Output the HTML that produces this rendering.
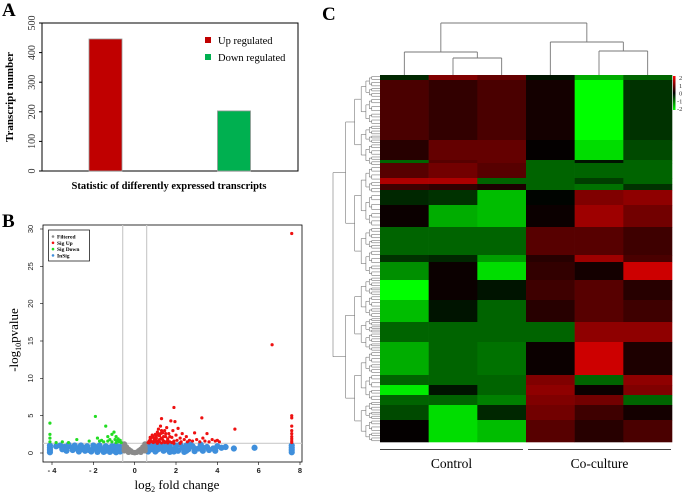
<!DOCTYPE html>
<html><head><meta charset="utf-8"><style>
html,body{margin:0;padding:0;background:#fff;}
svg{display:block;font-family:"Liberation Serif",serif;}
.ss{font-family:"Liberation Sans",sans-serif;}
</style></head><body>
<svg id="fig" width="685" height="494" viewBox="0 0 685 494" xmlns="http://www.w3.org/2000/svg">
<text x="2" y="16" font-size="19" font-weight="bold">A</text>
<text x="2" y="227" font-size="19" font-weight="bold">B</text>
<text x="322" y="20" font-size="19" font-weight="bold">C</text>
<g id="pa"></g>
<g id="pb"></g>
<g id="pc"></g>
</svg>
<script>
// ---------- Panel A data ----------
const barCategories = ["Up regulated","Down regulated"];
const barValues = [446, 203];
const barTicks = [0,100,200,300,400,500];

// ---------- Panel B data ----------
const xTicksB = [-4,-2,0,2,4,6,8];
const yTicksB = [0,5,10,15,20,25,30];
const sigUpPts = [[0.65,1.4],[0.7,1.6],[0.75,1.8],[0.8,2.0],[0.85,1.5],[0.9,2.2],[0.95,1.7],[1.0,2.5],[1.0,1.5],[1.05,2.0],[1.1,2.8],[1.1,1.6],[1.15,3.2],[1.2,2.3],[1.2,1.5],[1.25,3.6],[1.3,4.6],[1.3,2.0],[1.35,2.7],[1.4,1.6],[1.45,3.0],[1.5,2.2],[1.5,1.5],[1.55,3.4],[1.6,1.9],[1.65,2.6],[1.7,1.5],[1.75,4.3],[1.8,2.1],[1.85,3.0],[1.9,1.6],[1.95,4.2],[2.0,2.4],[2.05,1.7],[2.1,3.3],[2.2,2.0],[2.25,1.5],[2.3,2.6],[2.4,1.8],[2.5,2.2],[2.55,1.5],[2.65,1.7],[2.8,1.6],[2.9,2.7],[3.0,1.8],[3.15,1.5],[3.3,2.0],[3.4,1.6],[3.5,2.6],[3.6,1.5],[3.75,1.8],[3.9,1.6],[4.0,1.7],[4.1,1.5],[1.9,6.1],[3.25,4.7],[4.85,3.2],[6.65,14.5],[7.6,29.4],[7.6,5.0],[7.6,4.7],[7.6,3.6],[7.6,3.0],[7.6,2.6],[7.6,2.2],[7.6,1.9],[7.6,1.6],[7.6,1.4],[0.7,1.35],[0.9,1.4],[1.1,1.3],[1.3,1.35],[1.6,1.35],[1.9,1.3],[2.2,1.3],[0.8,1.55],[1.0,1.9],[1.2,1.8],[1.4,2.2],[1.6,1.7],[1.8,1.4],[1.25,2.6],[1.0,1.75],[0.75,2.1],[0.85,2.4],[0.95,2.0],[1.05,2.3],[1.15,2.5],[1.35,1.8],[1.45,1.4],[1.7,2.2],[1.5,2.6],[1.3,3.0]];
const sigDownPts = [[-4.1,1.5],[-4.1,2],[-4.1,2.5],[-4.1,4],[-3.8,1.4],[-3.5,1.5],[-3.2,1.4],[-2.8,1.8],[-2.2,1.6],[-1.9,4.9],[-1.8,2],[-1.6,1.7],[-1.4,3.6],[-1.3,2.2],[-1.2,1.8],[-1.1,2.5],[-1.0,2.8],[-0.9,2.2],[-0.95,1.8],[-0.85,1.6],[-0.8,1.9],[-0.75,1.5],[-0.7,1.7],[-1.1,1.5],[-1.3,1.6],[-0.9,1.4],[-0.65,1.4],[-1.5,1.5],[-1.7,1.6]];
const inSigPts = [[-4.1,0.1],[-4.1,0.4],[-4.1,0.7],[-4.1,1.0],[-3.8,0.9],[-3.6,1.0],[-3.4,0.8],[-3.2,0.9],[-3.0,0.7],[-2.8,0.6],[-2.6,0.5],[-2.4,0.7],[-2.2,0.4],[-2.0,0.6],[-1.8,0.4],[-1.6,0.5],[-1.4,0.3],[-1.2,0.5],[-1.0,0.3],[-0.8,0.4],[-0.7,0.2],[-3.5,0.5],[-3.0,0.4],[-2.7,0.2],[-2.4,0.3],[-2.1,0.2],[-1.8,0.15],[-1.5,0.15],[-1.2,0.15],[-0.9,0.1],[-1.1,0.9],[-0.9,1.0],[-0.7,0.8],[-1.4,0.9],[-1.7,1.0],[-2.0,1.0],[-2.6,1.0],[-3.2,1.1],[0.65,0.2],[0.8,0.5],[0.9,0.9],[1.0,0.2],[1.2,0.6],[1.3,1.0],[1.4,0.3],[1.6,0.8],[1.7,0.15],[1.8,0.5],[2.0,1.0],[2.1,0.3],[2.3,0.7],[2.4,0.15],[2.6,0.5],[2.8,0.9],[2.9,0.25],[3.1,0.6],[3.3,0.3],[3.5,0.8],[3.6,0.4],[3.8,0.6],[4.0,0.9],[4.2,0.7],[4.4,0.8],[4.8,0.6],[5.8,0.7],[0.7,1.1],[1.0,1.1],[1.5,1.15],[2.2,1.15],[2.7,1.1],[3.2,1.1],[0.75,0.7],[1.1,0.45],[1.5,0.5],[1.9,0.2],[2.5,1.0],[7.6,0.1],[7.6,0.4],[7.6,0.7],[7.6,1.0],[-3.3,0.3],[-2.9,1.0],[-2.3,0.9],[-1.9,0.8],[-1.3,0.7],[-0.8,0.7],[1.2,0.9],[1.7,1.05],[2.0,0.6],[2.5,0.3],[2.9,0.6],[3.3,0.7],[3.9,0.3]];
const filteredPts = [[-0.5,1.2],[-0.4,0.8],[-0.3,0.5],[-0.2,0.3],[-0.1,0.1],[0,0.05],[0.1,0.1],[0.2,0.3],[0.3,0.5],[0.4,0.8],[0.5,1.2],[-0.5,0.3],[0.5,0.3],[-0.3,0.1],[0.3,0.1],[-0.5,0.7],[0.5,0.7]];

// ---------- Panel C data ----------
const heatSamples = ["C1","C2","C3","T1","T2","T3"];
const heatBlockRows = [5,60,20,3,15,6,6,15,22,28,7,18,20,22,20,33,10,10,10,15,22];
const heatValues = [
 [-0.5,1.2,1,-0.3,-1.5,-1],
 [0.8,0.6,0.8,0.3,-2,-0.6],
 [0.5,1,1,0.1,-1.8,-0.8],
 [-1,0.9,1,-1,-0.3,-1],
 [0.9,1.1,0.9,-1,-1,-1],
 [1.5,1.5,-1,-1,-0.7,-1],
 [0.7,0.6,0.4,-1,-1.1,-0.6],
 [-0.5,-0.6,-1.6,-0.1,1.2,1.3],
 [0.2,-1.5,-1.6,0.2,1.4,1.1],
 [-1,-1,-1,0.9,0.9,0.7],
 [-0.6,-0.5,-1.4,0.5,1.4,0.8],
 [-1.3,0.2,-1.8,0.6,0.3,1.7],
 [-2,0.2,-0.3,0.7,0.9,0.5],
 [-1.6,-0.3,-1,0.5,0.9,0.7],
 [-1,-1,-1,-1,1.3,1.3],
 [-1.5,-1,-1.1,0.2,1.7,0.4],
 [-1,-1,-1,1.2,-1,1.3],
 [-1.9,-0.3,-1,1.3,0.2,1.2],
 [-1,-1,-1.2,1.2,1.1,-1],
 [-0.8,-1.8,-0.5,1.1,0.7,0.3],
 [0.1,-1.8,-1.6,0.9,0.5,0.8]
];
const colorbarTicks = [2,1,0,-1,-2];

const NS="http://www.w3.org/2000/svg";
function mk(parent,tag,attrs,txt){const e=document.createElementNS(NS,tag);for(const k in attrs)e.setAttribute(k,attrs[k]);if(txt!==undefined)e.textContent=txt;parent.appendChild(e);return e;}

// ===== Panel A =====
(function(){
 const g=document.getElementById('pa');
 const L=42,R=298,T=23,B=171;
 const y=v=>B-(v/500)*(B-T);
 const frame=mk(g,'rect',{x:L,y:T,width:R-L,height:B-T,fill:'none',stroke:'#000','stroke-width':1});
 
 
 barTicks.forEach(t=>{
  const tk=mk(g,'line',{x1:L-3,x2:L,y1:y(t),y2:y(t),stroke:'#000'});
  
  
  const lb=mk(g,'text',{x:0,y:0,'font-size':10,fill:'#333','text-anchor':'middle',transform:`translate(35,${y(t)}) rotate(-90)`},String(t));
  
  
 });
 const cols=['#c00000','#00b050'];
 const centers=[105.5,234];
 barValues.forEach((v,i)=>{
  const r=mk(g,'rect',{x:centers[i]-16.5,y:y(v),width:33,height:B-y(v),fill:cols[i],stroke:'#999','stroke-width':0.8});
  
  
  const sq=mk(g,'rect',{x:205,y:37+i*17,width:6,height:6,fill:cols[i]});
  
  
  const lt=mk(g,'text',{x:218,y:44+i*17,'font-size':10.5},barCategories[i]);
  
  
 });
 const yt=mk(g,'text',{x:0,y:0,'font-size':11,'font-weight':'bold','text-anchor':'middle',transform:'translate(13,97) rotate(-90)'},'Transcript number');
 
 
 const xt=mk(g,'text',{x:169,y:189,'font-size':10.5,'font-weight':'bold','text-anchor':'middle'},'Statistic of differently expressed transcripts');
 
 
})();

// ===== Panel B =====
(function(){
 const g=document.getElementById('pb');
 const L=43,R=302,T=225,B=462;
 const x=v=>52+(v+4)*(248/12);
 const y=v=>453-v*(224/30);
 const fr=mk(g,'rect',{x:L,y:T,width:R-L,height:B-T,fill:'none',stroke:'#000','stroke-width':0.8});
 
 
 [-0.58,0.58].forEach(v=>{
  const l=mk(g,'line',{x1:x(v),x2:x(v),y1:T,y2:B,stroke:'#ccc','stroke-width':1.2});
  
  
 });
 const hl=mk(g,'line',{x1:L,x2:R,y1:y(1.3),y2:y(1.3),stroke:'#ccc','stroke-width':1.2});
 
 
 const groups=[[inSigPts,'#3f8fdc',3.1,'point-insig'],[filteredPts,'#8a8a8a',2.8,'point-filtered'],[sigDownPts,'#22dd22',1.6,'point-sig-down'],[sigUpPts,'#ee1111',1.6,'point-sig-up']];
 groups.forEach(([pts,c,r,nm])=>pts.forEach(p=>{
  const e=mk(g,'circle',{cx:x(p[0]),cy:y(p[1]),r:r,fill:c});
  
  
 }));
 xTicksB.forEach(t=>{
  const tk=mk(g,'line',{x1:x(t),x2:x(t),y1:B,y2:B+3,stroke:'#000','stroke-width':0.6});
  
  
  const lb=mk(g,'text',{x:x(t),y:B+11,'font-size':7.5,'font-weight':'bold','text-anchor':'middle',class:'ss',fill:'#222'},t<0?'- '+(-t):String(t));
  
  
 });
 yTicksB.forEach(t=>{
  const tk=mk(g,'line',{x1:L-3,x2:L,y1:y(t),y2:y(t),stroke:'#000','stroke-width':0.6});
  
  
  const lb=mk(g,'text',{x:0,y:0,'font-size':7.5,'text-anchor':'middle',class:'ss',fill:'#222',transform:`translate(33,${y(t)}) rotate(-90)`},String(t));
  
  
 });
 const lg=mk(g,'rect',{x:48.5,y:230,width:41,height:31,fill:'#fff',stroke:'#000','stroke-width':0.7});
 
 
 [['Filtered','#8a8a8a'],['Sig Up','#ee1111'],['Sig Down','#22dd22'],['InSig','#3f8fdc']].forEach((e,i)=>{
  const c=mk(g,'circle',{cx:53,cy:236.5+i*6.3,r:1.3,fill:e[1]});
  
  
  const t=mk(g,'text',{x:57,y:238.5+i*6.3,'font-size':5.5,'font-weight':'bold'},e[0]);
  
  
 });
 const yt=mk(g,'text',{x:0,y:0,'font-size':13,'text-anchor':'middle',transform:'translate(18,340) rotate(-90)'});
 
 
 yt.innerHTML='-log<tspan font-size="8" dy="3">10</tspan><tspan dy="-3">pvalue</tspan>';
 const xt=mk(g,'text',{x:177,y:489,'font-size':13,'text-anchor':'middle'});
 
 
 xt.innerHTML='log<tspan font-size="8" dy="3">2</tspan><tspan dy="-3"> fold change</tspan>';
})();

// ===== Panel C =====
(function(){
 const g=document.getElementById('pc');
 const L=380,R=672,T=75,B=442;
 const cw=(R-L)/heatSamples.length;
 const total=heatBlockRows.reduce((a,b)=>a+b,0);
 const rh=(B-T)/total;
 function col(v){v=Math.max(-2,Math.min(2,v));const a=Math.round(Math.pow(Math.abs(v)/2,1.35)*255);return v>=0?`rgb(${a},0,0)`:`rgb(0,${a},0)`;}
 let r0=0;
 heatBlockRows.forEach((n,bi)=>{
  heatValues[bi].forEach((v,ci)=>{
   const e=mk(g,'rect',{x:L+ci*cw,y:T+r0*rh,width:cw+0.3,height:n*rh+0.3,fill:col(v)});
   
   
  });
  r0+=n;
 });
 const cx=i=>L+cw*(i+0.5);
 const dg=mk(g,'g',{stroke:'#777','stroke-width':0.9,fill:'none'});
 
 
 const seg=(x1,y1,x2,y2)=>mk(dg,'line',{x1,y1,x2,y2});
 function merge(xa,ya,xb,yb,h){seg(xa,ya,xa,h);seg(xb,yb,xb,h);seg(xa,h,xb,h);return (xa+xb)/2;}
 const m1=merge(cx(1),T,cx(2),T,58);
 const m2=merge(cx(0),T,m1,58,52);
 const m3=merge(cx(4),T,cx(5),T,51);
 const m4=merge(cx(3),T,m3,51,42);
 merge(m2,52,m4,42,23);
 const rg=mk(g,'g',{stroke:'#777','stroke-width':0.6,fill:'none'});
 
 
 const dx=d=>333+45*(1-Math.pow(0.72,d));
 function tree(a,b,d){
  const m=(a+b)/2;
  if(d>=7){mk(rg,'line',{x1:dx(d),y1:m,x2:L,y2:m});return m;}
  const s=a+(b-a)*(d%2?0.45:0.55);
  const c1=tree(a,s,d+1),c2=tree(s,b,d+1);
  const xx=dx(d),xc=dx(d+1);
  mk(rg,'line',{x1:xx,y1:c1,x2:xx,y2:c2});
  mk(rg,'line',{x1:xx,y1:c1,x2:xc,y2:c1});
  mk(rg,'line',{x1:xx,y1:c2,x2:xc,y2:c2});
  return (c1+c2)/2;
 }
 tree(T,B,0);
 const defs=mk(g,'defs',{});
 const lgd=mk(defs,'linearGradient',{id:'cb',x1:0,y1:0,x2:0,y2:1});
 mk(lgd,'stop',{offset:'0',"stop-color":'#ff0000'});
 mk(lgd,'stop',{offset:'0.5',"stop-color":'#000'});
 mk(lgd,'stop',{offset:'1',"stop-color":'#00ff00'});
 const cb=mk(g,'rect',{x:673,y:76,width:2.5,height:34,fill:'url(#cb)'});
 
 
 colorbarTicks.forEach((t,i)=>{
  const e=mk(g,'text',{x:t<0?677:679,y:80+i*7.8,'font-size':6.5,fill:'#333'},String(t));
  
  
 });
 [['Control',380,523],['Co-culture',528,671]].forEach(([lbl,a,b])=>{
  const l=mk(g,'line',{x1:a,x2:b,y1:449.5,y2:449.5,stroke:'#444','stroke-width':1});
  
  
  const t=mk(g,'text',{x:(a+b)/2,y:468,'font-size':13.5,'text-anchor':'middle'},lbl);
  
  
 });
})();
</script>
</body></html>
